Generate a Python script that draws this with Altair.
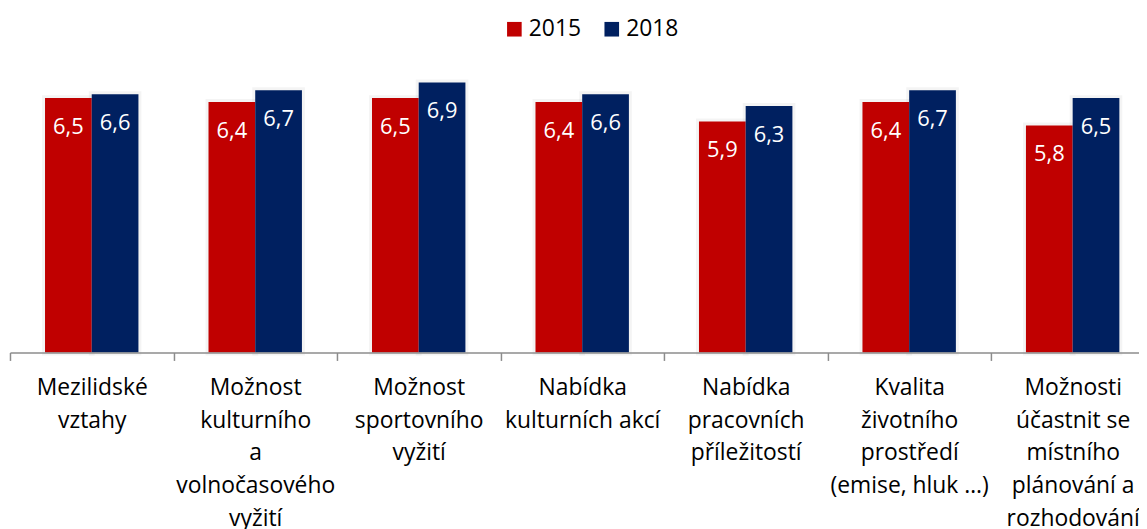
import altair as alt
import pandas as pd

categories = [
    "Mezilidské\nvztahy",
    "Možnost\nkulturního\na\nvolnočasového\nvyžití",
    "Možnost\nsportovního\nvyžití",
    "Nabídka\nkulturních akcí",
    "Nabídka\npracovních\npříležitostí",
    "Kvalita\nživotního\nprostředí\n(emise, hluk …)",
    "Možnosti\núčastnit se\nmístního\nplánování a\nrozhodování",
]
years = ["2015", "2018"]
values_2015 = [6.5, 6.4, 6.5, 6.4, 5.9, 6.4, 5.8]
values_2018 = [6.6, 6.7, 6.9, 6.6, 6.3, 6.7, 6.5]
colors = ["#C00000", "#002060"]

rows = []
for i, c in enumerate(categories):
    rows.append({"cat": c, "year": years[0], "value": values_2015[i]})
    rows.append({"cat": c, "year": years[1], "value": values_2018[i]})
df = pd.DataFrame(rows)

FONT = "Open Sans"

x = alt.X(
    "cat:N",
    sort=categories,
    title=None,
    scale=alt.Scale(paddingInner=0, paddingOuter=0, range=[0, 1151.5]),
    axis=alt.Axis(
        labelAngle=0,
        labelExpr="split(datum.label, '\\n')",
        tickBand="extent",
        ticks=True,
        tickSize=8,
        tickColor="#8c8c8c",
        tickWidth=1.5,
        domainColor="#8c8c8c",
        domainWidth=1.5,
        labelFont=FONT,
        labelFontSize=23,
        labelLineHeight=33,
        labelPadding=16,
        labelColor="#000000",
        labelBaseline="top",
        labelLimit=0,
        grid=False,
        zindex=1,
    ),
)
xo = alt.XOffset("year:N", sort=years, scale=alt.Scale(paddingOuter=0.75, paddingInner=0))
y = alt.Y("value:Q", scale=alt.Scale(domain=[0, 8], nice=False, zero=True), axis=None)

base = alt.Chart(df)

shadow = base.mark_bar(fillOpacity=0, stroke="#000000", strokeOpacity=0.045, strokeWidth=6).encode(
    x=x, xOffset=xo, y=y
)

bars = base.mark_bar().encode(
    x=x,
    xOffset=xo,
    y=y,
    color=alt.Color(
        "year:N",
        sort=years,
        scale=alt.Scale(domain=years, range=colors),
        legend=alt.Legend(
            orient="none",
            legendX=496,
            legendY=-22,
            direction="horizontal",
            title=None,
            symbolType="square",
            symbolSize=216,
            symbolStrokeWidth=0,
            symbolOpacity=1,
            labelFont=FONT,
            labelFontSize=23,
            labelColor="#000000",
            labelOffset=3,
            columnPadding=19,
            padding=0,
        ),
    ),
)

labels = base.transform_calculate(
    lbl="replace(format(datum.value, '.1f'), '.', ',')"
).mark_text(
    color="white", font=FONT, fontSize=22, baseline="middle", align="center", dy=29
).encode(x=x, xOffset=xo, y=y, text="lbl:N")

chart = (
    alt.layer(shadow, bars, labels)
    .properties(
        width=1136,
        height=315,
        background="white",
        autosize=alt.AutoSizeParams(type="none"),
        padding={"left": 2, "top": 30, "right": 0, "bottom": 176},
    )
    .configure_view(stroke=None)
)

chart.save("out.html", embed_options={"renderer": "svg", "actions": False})
